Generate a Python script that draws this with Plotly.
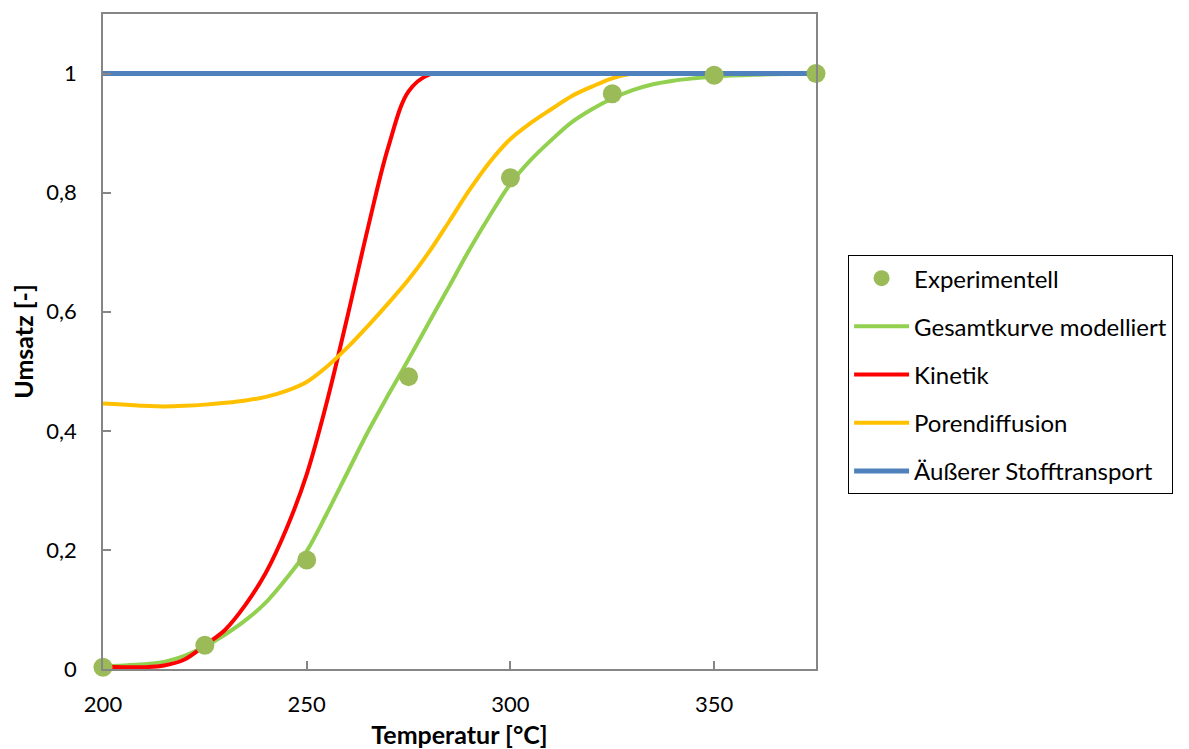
import plotly.graph_objects as go

# Experimental data
exp_T = [200, 225, 250, 275, 300, 325, 350, 375]
exp_U = [0.003, 0.040, 0.183, 0.491, 0.825, 0.966, 0.997, 1.0]

# Model curves
model_T = [200, 205, 210, 215, 220, 225, 230, 235, 240, 245, 250, 255, 260, 265,
           270, 275, 280, 285, 290, 295, 300, 305, 310, 315, 320, 325, 330, 335,
           340, 345, 350, 360, 375]
gesamt = [0.005, 0.006, 0.008, 0.012, 0.022, 0.038, 0.058, 0.082, 0.112, 0.152,
          0.198, 0.262, 0.330, 0.398, 0.460, 0.520, 0.582, 0.643, 0.705, 0.762,
          0.815, 0.855, 0.888, 0.918, 0.940, 0.958, 0.972, 0.982, 0.988, 0.992,
          0.995, 0.998, 1.0]
kinetik = [0.004, 0.003, 0.003, 0.006, 0.016, 0.040, 0.066, 0.108, 0.162, 0.235,
           0.327, 0.450, 0.592, 0.740, 0.876, 0.970, 0.998, 1.0, 1.0, 1.0,
           1.0, 1.0, 1.0, 1.0, 1.0, 1.0, 1.0, 1.0, 1.0, 1.0, 1.0, 1.0, 1.0]
poren = [0.446, 0.444, 0.442, 0.441, 0.442, 0.444, 0.447, 0.451, 0.457, 0.467,
         0.482, 0.508, 0.540, 0.576, 0.614, 0.654, 0.700, 0.752, 0.805, 0.852,
         0.890, 0.917, 0.940, 0.962, 0.978, 0.992, 1.0, 1.0, 1.0, 1.0, 1.0, 1.0, 1.0]
aeusserer = [1.0] * len(model_T)

FONT = "Lato, Open Sans, sans-serif"

fig = go.Figure()
fig.add_trace(go.Scatter(x=model_T, y=gesamt, mode="lines", name="Gesamtkurve modelliert",
                         line=dict(color="#92D050", width=4, shape="spline"), legendrank=2,
                         legendgroup="g2"))
fig.add_trace(go.Scatter(x=model_T, y=kinetik, mode="lines", name="Kinetik",
                         line=dict(color="#FF0000", width=4, shape="spline"), legendrank=3,
                         legendgroup="g3"))
fig.add_trace(go.Scatter(x=model_T, y=poren, mode="lines", name="Porendiffusion",
                         line=dict(color="#FFC000", width=4, shape="spline"), legendrank=4,
                         legendgroup="g4"))
fig.add_trace(go.Scatter(x=model_T, y=aeusserer, mode="lines", name="Äußerer Stofftransport",
                         line=dict(color="#4F81BD", width=5), legendrank=5,
                         legendgroup="g5"))
fig.add_trace(go.Scatter(x=exp_T, y=exp_U, mode="markers", name="Experimentell",
                         marker=dict(color="#9BBB59", size=19), cliponaxis=False,
                         legendrank=1, legendgroup="g1"))

axis_common = dict(showgrid=False, zeroline=False, showline=True, linecolor="#868686",
                   linewidth=1.5, mirror=True, ticks="inside", ticklen=8,
                   tickcolor="#868686", tickwidth=1.5, automargin=False,
                   tickfont=dict(family=FONT, size=22, color="black"))

fig.update_xaxes(range=[200, 375], tick0=200, dtick=50, ticklabelstandoff=15,
                 title=dict(text="<b>Temperatur [°C]</b>", font=dict(family=FONT, size=25, color="black"),
                            standoff=15),
                 **axis_common)
fig.update_yaxes(range=[0, 1.1], tickvals=[0, 0.2, 0.4, 0.6, 0.8, 1.0], ticklabelstandoff=20,
                 title=dict(text="<b>Umsatz [-]</b>", font=dict(family=FONT, size=25, color="black"),
                            standoff=9),
                 **axis_common)

# the page adds an 8px body margin, so the figure is drawn 8px smaller
fig.update_layout(
    width=1181, height=741,
    margin=dict(l=95, r=373, t=6, b=80),
    paper_bgcolor="white", plot_bgcolor="white",
    separators=",.",
    font=dict(family=FONT, size=22, color="black"),
    legend=dict(x=1.045, y=0.632, xanchor="left", yanchor="top",
                bordercolor="black", borderwidth=1, bgcolor="white",
                traceorder="grouped", tracegroupgap=14, itemwidth=55,
                font=dict(family=FONT, size=24, color="black")),
)

fig.write_html("out.html")
